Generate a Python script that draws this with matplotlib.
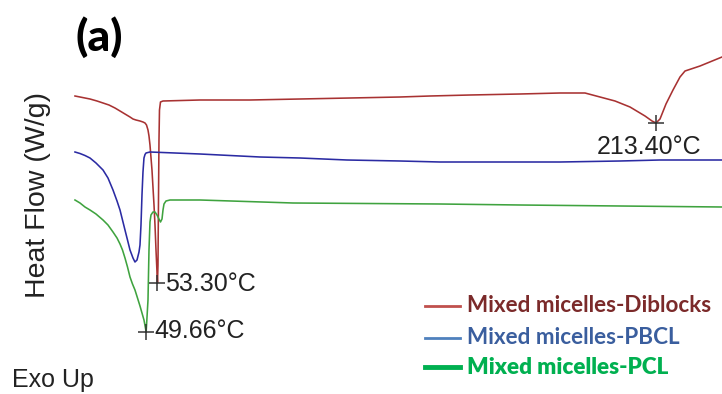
import matplotlib
matplotlib.use("Agg")
import matplotlib.pyplot as plt

# DSC thermograms (heating), temperature in degC, heat flow in W/g (offset, Exo Up)
diblocks_T = [26.80, 28.41, 30.01, 31.62, 33.87, 35.80, 37.72, 39.65, 41.26, 42.86,
              44.47, 45.43, 46.39, 47.68, 48.64, 49.29, 49.77, 50.25, 50.57, 50.89,
              51.53, 52.18, 52.50, 52.82, 53.14, 53.30, 53.46, 53.62, 53.78, 53.94,
              54.26, 55.07, 66.95, 83.01, 99.07, 115.13, 131.19, 140.82, 153.67, 169.73,
              182.57, 190.60, 195.42, 200.24, 205.05, 209.87, 212.12, 213.40, 214.69, 216.61,
              218.86, 221.11, 222.72, 227.54, 234.60]
diblocks_hf = [2.54, 2.53, 2.52, 2.51, 2.49, 2.47, 2.45, 2.42, 2.39, 2.36,
               2.33, 2.31, 2.30, 2.29, 2.28, 2.27, 2.25, 2.20, 2.14, 2.05,
               1.80, 1.45, 1.25, 1.00, 0.78, 0.67, 0.85, 1.50, 2.10, 2.40,
               2.48, 2.49, 2.50, 2.50, 2.51, 2.52, 2.53, 2.54, 2.55, 2.56,
               2.57, 2.57, 2.53, 2.49, 2.43, 2.34, 2.29, 2.27, 2.31, 2.46,
               2.60, 2.73, 2.79, 2.84, 2.93]

pbcl_T = [26.80, 28.41, 30.01, 31.62, 33.55, 35.80, 37.40, 39.01, 40.30, 41.26,
          42.06, 42.86, 43.67, 44.47, 45.43, 46.07, 46.72, 47.36, 47.68, 48.00,
          48.32, 48.64, 48.96, 49.29, 49.61, 50.89, 66.95, 86.22, 99.07, 114.16,
          131.19, 144.03, 163.30, 182.57, 201.84, 214.69, 234.60]
pbcl_hf = [1.98, 1.965, 1.945, 1.92, 1.87, 1.80, 1.72, 1.60, 1.49, 1.40,
           1.30, 1.20, 1.10, 1.00, 0.92, 0.88, 0.90, 0.98, 1.05, 1.25,
           1.55, 1.78, 1.92, 1.955, 1.97, 1.98, 1.96, 1.93, 1.92, 1.90,
           1.89, 1.88, 1.88, 1.88, 1.89, 1.90, 1.90]

pcl_T = [26.80, 28.41, 30.01, 31.62, 33.55, 35.80, 37.40, 39.01, 40.30, 41.26,
         42.06, 42.86, 43.67, 44.47, 45.27, 46.07, 46.88, 47.68, 48.32, 48.96,
         49.66, 50.25, 50.57, 50.89, 51.21, 51.85, 52.50, 53.14, 53.78, 54.26,
         54.75, 55.07, 55.39, 56.03, 57.31, 66.95, 96.82, 144.03, 169.73, 201.84,
         234.60]
pcl_hf = [1.50, 1.47, 1.43, 1.40, 1.36, 1.30, 1.25, 1.18, 1.12, 1.06,
          1.00, 0.92, 0.83, 0.73, 0.66, 0.60, 0.52, 0.44, 0.37, 0.30,
          0.18, 0.50, 1.00, 1.28, 1.35, 1.38, 1.38, 1.35, 1.31, 1.28,
          1.31, 1.40, 1.46, 1.49, 1.50, 1.50, 1.47, 1.46, 1.45, 1.44,
          1.43]

# labelled peak temperatures: (series, peak temperature)
peaks = [("diblocks", 53.30), ("pcl", 49.66), ("diblocks", 213.40)]

legend_labels = ["Mixed micelles-Diblocks", "Mixed micelles-PBCL", "Mixed micelles-PCL"]

series = {
    "diblocks": (diblocks_T, diblocks_hf),
    "pbcl": (pbcl_T, pbcl_hf),
    "pcl": (pcl_T, pcl_hf),
}
curve_colors = {"diblocks": "#A83232", "pbcl": "#2B2BA3", "pcl": "#3FA33F"}

fig = plt.figure(figsize=(7.22, 3.94), dpi=100)
ax = fig.add_axes([0, 0, 1, 1])
ax.set_xlim(2.72, 234.60)
ax.set_ylim(-0.44, 3.50)
ax.axis("off")

for key in ["diblocks", "pbcl", "pcl"]:
    T, hf = series[key]
    ax.plot(T, hf, color=curve_colors[key], lw=1.15, solid_joinstyle="round")

# peak markers and temperature labels
label_offsets = [(5.5, -1.0), (6.0, 0.5), (-42.5, -17.5)]
for (key, tp), (dx, dy) in zip(peaks, label_offsets):
    T, hf = series[key]
    yv = hf[T.index(tp)]
    ax.plot([tp], [yv], marker="+", ms=11, mew=1.1, color="#333333", zorder=5)
    ax.annotate(f"{tp:.2f}°C", xy=(tp, yv), xytext=(dx, dy), textcoords="offset points",
                ha="left", va="center", fontsize=18, color="#222222",
                family="Liberation Sans")

fig.text(0.105, 0.905, "(a)", fontsize=32, fontweight="black", family="Lato",
         ha="left", va="center", color="black")
fig.text(0.052, 0.505, "Heat Flow (W/g)", rotation=90, fontsize=20.5,
         family="Liberation Sans", ha="center", va="center", color="#222222")
fig.text(0.016, 0.035, "Exo Up", fontsize=18, family="Liberation Sans",
         ha="left", va="center", color="#222222")

# legend
leg_line_colors = ["#C0504D", "#4F81BD", "#00B050"]
leg_text_colors = ["#7B2A2A", "#3A5E9E", "#00B050"]
leg_lw = [2.0, 2.0, 3.5]
leg_y = [1 - 306 / 394, 1 - 338 / 394, 1 - 367 / 394]
for lab, lc, tc, lw, y in zip(legend_labels, leg_line_colors, leg_text_colors, leg_lw, leg_y):
    ax.plot([425 / 722, 460 / 722], [y, y], color=lc, lw=lw, transform=ax.transAxes)
    ax.text(467 / 722, y, lab, transform=ax.transAxes, ha="left", va="center",
            fontsize=16.2, fontweight="heavy" if lab.endswith("PCL") else "bold",
            family="Lato", color=tc)

fig.savefig("out.png", dpi=100)
